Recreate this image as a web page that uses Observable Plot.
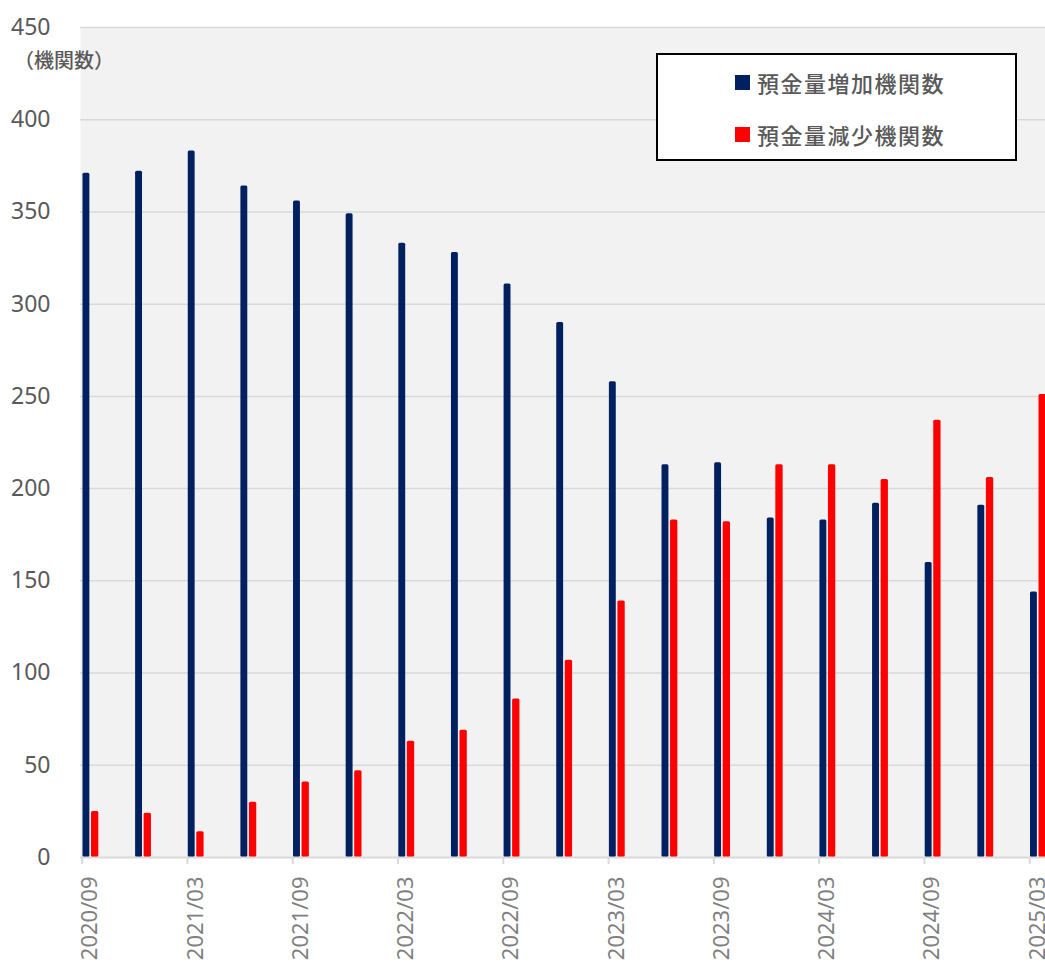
<!DOCTYPE html>
<html><head><meta charset="utf-8">
<script src="https://cdn.jsdelivr.net/npm/d3@7"></script>
<script src="https://cdn.jsdelivr.net/npm/@observablehq/plot@0.6"></script>
<style>
html,body{margin:0;padding:0;background:#fff;overflow:hidden;}
#wrap{position:relative;width:1045px;height:964px;overflow:hidden;}
.unit{position:absolute;left:14px;top:45px;font-family:"Noto Sans CJK JP","Noto Sans",sans-serif;font-size:20px;color:#595959;white-space:nowrap;font-weight:500;}
.legend{position:absolute;left:656px;top:53px;width:357px;height:104px;border:2px solid #000;background:#fff;font-family:"Noto Sans CJK JP","Noto Sans",sans-serif;}
.item{position:absolute;left:77px;height:30px;display:flex;align-items:center;font-size:22px;color:#595959;letter-spacing:1.5px;font-weight:500;}
.sw{width:15px;height:15px;margin-right:7px;display:inline-block;}
</style></head>
<body><div id="wrap"></div>
<script>
const periods = ["2020/09","2020/12","2021/03","2021/06","2021/09","2021/12","2022/03","2022/06","2022/09","2022/12","2023/03","2023/06","2023/09","2023/12","2024/03","2024/06","2024/09","2024/12","2025/03"];
const increase = [371,372,383,364,356,349,333,328,311,290,258,213,214,184,183,192,160,191,144];
const decrease = [25,24,14,30,41,47,63,69,86,107,139,183,182,213,213,205,237,206,251];
const yTicks = [0,50,100,150,200,250,300,350,400,450];
const xTickIndex = [0,2,4,6,8,10,12,14,16,18];
const seriesNames = ["預金量増加機関数","預金量減少機関数"];
const seriesColors = ["#002060","#ff0000"];
const unitLabel = "（機関数）";

const data = periods.map((p,i)=>({i, period:p, inc:increase[i], dec:decrease[i]}));

const chart = Plot.plot({
  width:1045, height:964,
  marginLeft:80, marginRight:0, marginTop:27, marginBottom:107,
  style:{fontFamily:'"Noto Sans","Noto Sans CJK JP",sans-serif', fontSize:"23px", background:"transparent", overflow:"hidden"},
  x:{type:"linear", domain:[-0.032, 18.3], axis:null},
  y:{domain:[0,450], axis:null},
  marks:[
    Plot.frame({fill:"#f2f2f2", stroke:null}),
    Plot.ruleY(yTicks.filter(v=>v>0), {stroke:"#d9d9d9", strokeWidth:1.5}),
    Plot.rect(data, {x1:d=>d.i+0.015, x2:d=>d.i+0.146, y1:0, y2:"inc", fill:seriesColors[0], rx:1.5, clip:true}),
    Plot.rect(data, {x1:d=>d.i+0.177, x2:d=>d.i+0.316, y1:0, y2:"dec", fill:seriesColors[1], rx:1.5, clip:true}),
    Plot.ruleY([0], {stroke:"#d9d9d9", strokeWidth:2}),
    Plot.axisY({ticks:yTicks, tickSize:0, tickPadding:30, fontSize:23, fill:"#595959"}),
    Plot.axisX({ticks:xTickIndex, tickSize:7, text:null, stroke:"#d9d9d9", strokeWidth:2}),
    Plot.axisX({ticks:xTickIndex, tickFormat:i=>periods[i], tickSize:0, tickPadding:19, tickRotate:-90, dx:8, fontSize:22, fill:"#7f7f7f"})
  ]
});
const wrap = document.getElementById("wrap");
wrap.appendChild(chart);
const u = document.createElement("div"); u.className="unit"; u.textContent=unitLabel; wrap.appendChild(u);
const lg = document.createElement("div"); lg.className="legend";
seriesNames.forEach((n,k)=>{
  const it=document.createElement("div"); it.className="item"; it.style.top=(12+k*52)+"px";
  const sw=document.createElement("span"); sw.className="sw"; sw.style.background=seriesColors[k];
  it.appendChild(sw); it.appendChild(document.createTextNode(n)); lg.appendChild(it);
});
wrap.appendChild(lg);
</script></body></html>
